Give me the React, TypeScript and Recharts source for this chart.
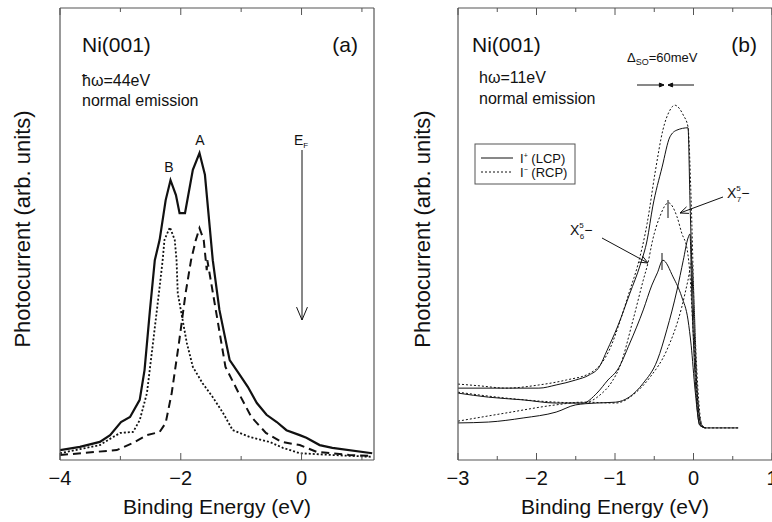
import { LineChart, Line, XAxis, YAxis } from 'recharts';

const FONT = '"Liberation Sans", Arial, Helvetica, sans-serif';
const INK = '#111';
const FRAME = '#555';

// panel (a): Ni(001), hw = 44 eV, normal emission  -> [binding energy (eV), photocurrent (arb.)]
const aSolid: [number, number][] = [
  [-4.0, 2.2], [-3.67, 2.9], [-3.34, 4.0], [-3.17, 5.5], [-2.99, 8.4], [-2.84, 9.5],
  [-2.68, 13.3], [-2.6, 19.9], [-2.51, 33.2], [-2.43, 44.2], [-2.35, 48.7], [-2.25, 57.5],
  [-2.17, 61.9], [-2.08, 58.6], [-2.02, 54.6], [-1.93, 54.6], [-1.8, 64.2], [-1.69, 67.9],
  [-1.6, 63.1], [-1.47, 44.2], [-1.36, 33.2], [-1.19, 22.1], [-1.02, 18.8], [-0.89, 16.2],
  [-0.74, 12.6], [-0.58, 10.0], [-0.41, 8.4], [-0.25, 6.6], [-0.03, 5.5], [0.08, 4.9],
  [0.3, 3.3], [0.51, 2.7], [1.17, 1.5],
];
const aDotted: [number, number][] = [
  [-4.0, 1.5], [-3.34, 3.3], [-3.12, 5.1], [-3.0, 6.0], [-2.79, 6.2], [-2.68, 8.8],
  [-2.56, 14.8], [-2.46, 25.9], [-2.35, 38.3], [-2.3, 44.2], [-2.27, 48.7], [-2.18, 51.5],
  [-2.1, 48.7], [-2.07, 44.2], [-2.05, 36.9], [-1.9, 25.9], [-1.8, 20.6], [-1.64, 17.0],
  [-1.47, 13.9], [-1.3, 10.4], [-1.14, 6.6], [-0.86, 5.1], [-0.53, 4.0], [-0.31, 2.7],
  [-0.03, 1.5], [0.51, 1.1], [1.17, 0.7],
];
const aDashed: [number, number][] = [
  [-4.0, 1.1], [-3.06, 2.2], [-2.79, 3.8], [-2.56, 5.5], [-2.35, 6.2], [-2.25, 8.2],
  [-2.15, 14.8], [-2.03, 25.9], [-1.92, 36.9], [-1.83, 44.2], [-1.75, 48.7], [-1.69, 51.3],
  [-1.62, 48.7], [-1.57, 42.0], [-1.56, 44.2], [-1.42, 33.2], [-1.26, 20.6], [-1.04, 14.8],
  [-0.83, 9.5], [-0.59, 6.0], [-0.33, 4.0], [-0.03, 3.3], [0.25, 1.8], [0.79, 1.1], [1.17, 0.9],
];

// panel (b): Ni(001), hw = 11 eV -> three pairs of I+ (LCP, solid) / I- (RCP, dotted)
const bPlus1: [number, number][] = [
  [-3.0, 15.9], [-2.39, 15.9], [-1.97, 15.9], [-1.75, 16.6], [-1.5, 17.7], [-1.33, 18.8],
  [-1.2, 20.6], [-1.1, 24.3], [-0.97, 29.4], [-0.81, 36.9], [-0.68, 43.1], [-0.59, 48.7],
  [-0.52, 56.0], [-0.4, 64.8], [-0.3, 71.5], [-0.21, 73.0], [-0.07, 73.5], [-0.045, 57.5],
  [-0.006, 35.4], [0.045, 15.5], [0.096, 7.7], [0.15, 7.1], [0.57, 7.1],
];
const bMinus1: [number, number][] = [
  [-3.0, 16.8], [-2.72, 16.4], [-2.39, 15.9], [-1.97, 16.6], [-1.62, 17.7], [-1.32, 19.2],
  [-1.19, 21.0], [-1.06, 24.8], [-0.94, 30.5], [-0.81, 37.6], [-0.71, 43.1], [-0.59, 52.4],
  [-0.49, 63.5], [-0.39, 73.0], [-0.3, 77.4], [-0.24, 78.5], [-0.13, 76.3], [-0.07, 73.7],
  [-0.03, 57.5], [0.006, 35.4], [0.057, 15.5], [0.108, 7.7], [0.16, 7.1], [0.57, 7.1],
];
const bPlus2: [number, number][] = [
  [-3.0, 14.8], [-2.61, 13.9], [-2.17, 13.3], [-1.75, 12.6], [-1.41, 12.6], [-1.23, 14.8],
  [-1.09, 17.7], [-0.97, 19.9], [-0.81, 25.9], [-0.64, 33.2], [-0.53, 38.7], [-0.46, 41.4],
  [-0.39, 44.2], [-0.26, 40.5], [-0.15, 36.1], [-0.07, 31.0], [-0.03, 25.4], [0.02, 15.5],
  [0.08, 7.7], [0.15, 7.1],
];
const bMinus2: [number, number][] = [
  [-3.0, 15.0], [-2.39, 13.7], [-1.75, 12.8], [-1.41, 12.6], [-1.19, 14.4], [-1.04, 17.3],
  [-0.94, 20.6], [-0.77, 31.0], [-0.64, 39.8], [-0.58, 43.6], [-0.52, 48.7], [-0.43, 53.8],
  [-0.32, 56.9], [-0.21, 53.8], [-0.15, 50.2], [-0.08, 46.5], [-0.045, 40.9], [-0.006, 28.8],
  [0.045, 14.4], [0.11, 7.7], [0.16, 7.1],
];
const bPlus3: [number, number][] = [
  [-3.0, 8.2], [-2.61, 8.4], [-2.17, 9.3], [-1.75, 10.6], [-1.5, 12.2], [-1.24, 12.6],
  [-0.99, 12.8], [-0.82, 13.9], [-0.64, 17.0], [-0.46, 22.1], [-0.34, 28.8], [-0.21, 37.6],
  [-0.13, 44.2], [-0.07, 49.1], [-0.045, 50.0], [-0.02, 35.4], [0.03, 15.5], [0.08, 7.7],
  [0.15, 7.1],
];
const bMinus3: [number, number][] = [
  [-3.0, 8.6], [-2.39, 10.4], [-1.75, 12.2], [-1.41, 12.8], [-0.99, 12.6], [-0.73, 15.0],
  [-0.55, 18.4], [-0.34, 24.3], [-0.15, 33.8], [-0.07, 39.8], [-0.02, 43.8], [0.006, 35.4],
  [0.045, 15.5], [0.096, 7.7], [0.16, 7.1],
];

const aTicks = [-4, -3, -2, -1, 0, 1];
const aTickLabels = [-4, -2, 0];
const bTicks = [-3, -2.5, -2, -1.5, -1, -0.5, 0, 0.5, 1];
const bTickLabels = [-3, -2, -1, 0, 1];

const toRows = (pts: [number, number][]) => pts.map(([x, y]) => ({ x, y }));
const fmt = (v: number) => (v < 0 ? `\u2212${Math.abs(v)}` : `${v}`);

function makeTick(labelled: number[], side: 'top' | 'bottom') {
  return (props: any) => {
    const { x, y, payload } = props;
    const v = payload.value;
    const major = labelled.includes(v);
    const len = major ? 7 : 4;
    const dir = side === 'bottom' ? -1 : 1;
    return (
      <g>
        <line x1={x} x2={x} y1={y} y2={y + dir * len} stroke={FRAME} strokeWidth={1} />
        {side === 'bottom' && major && (
          <text x={x} y={y + 25} textAnchor="middle" fontSize={20} fontFamily={FONT} fill={INK}>
            {fmt(v)}
          </text>
        )}
      </g>
    );
  };
}

type Series = { pts: [number, number][]; width: number; dash?: string; curve: 'linear' | 'monotone' };

// axes get 1px of size (a zero-sized axis is not drawn), so margins are 1px smaller
function Panel({ width, margin, domain, ticks, labelled, series }: {
  width: number;
  margin: { top: number; left: number; right: number; bottom: number };
  domain: [number, number];
  ticks: number[];
  labelled: number[];
  series: Series[];
}) {
  const axisLine = { stroke: FRAME, strokeWidth: 1.2 };
  return (
    <LineChart width={width} height={522} margin={margin}>
      <XAxis xAxisId="b" dataKey="x" type="number" domain={domain} allowDataOverflow ticks={ticks}
        interval={0} height={1} tickSize={0} tickMargin={0} tickLine={false} axisLine={axisLine}
        tick={makeTick(labelled, 'bottom')} />
      <XAxis xAxisId="t" orientation="top" dataKey="x" type="number" domain={domain} allowDataOverflow
        ticks={ticks} interval={0} height={1} tickSize={0} tickMargin={0} tickLine={false}
        axisLine={axisLine} tick={makeTick(labelled, 'top')} />
      <YAxis yAxisId="l" type="number" domain={[0, 100]} allowDataOverflow width={1} tick={false}
        tickLine={false} axisLine={axisLine} />
      <YAxis yAxisId="r" orientation="right" type="number" domain={[0, 100]} allowDataOverflow
        width={1} tick={false} tickLine={false} axisLine={axisLine} />
      {series.map((s, i) => (
        <Line key={i} xAxisId="b" yAxisId="l" data={toRows(s.pts)} dataKey="y" type={s.curve}
          stroke={INK} strokeWidth={s.width} strokeDasharray={s.dash} dot={false}
          activeDot={false} isAnimationActive={false} />
      ))}
    </LineChart>
  );
}

function Arrow({ x1, y1, x2, y2, size = 8, filled = false }: {
  x1: number; y1: number; x2: number; y2: number; size?: number; filled?: boolean;
}) {
  const a = Math.atan2(y2 - y1, x2 - x1);
  const w = 0.4;
  const p1 = [x2 - size * Math.cos(a - w), y2 - size * Math.sin(a - w)];
  const p2 = [x2 - size * Math.cos(a + w), y2 - size * Math.sin(a + w)];
  return (
    <g stroke={INK} strokeWidth={1}>
      <line x1={x1} y1={y1} x2={x2} y2={y2} />
      {filled ? (
        <polygon points={`${p1[0]},${p1[1]} ${x2},${y2} ${p2[0]},${p2[1]}`} fill={INK} />
      ) : (
        <polyline points={`${p1[0]},${p1[1]} ${x2},${y2} ${p2[0]},${p2[1]}`} fill="none" />
      )}
    </g>
  );
}

export default function App() {
  const seriesA: Series[] = [
    { pts: aSolid, width: 2.2, curve: 'linear' },
    { pts: aDashed, width: 2, dash: '8 5', curve: 'linear' },
    { pts: aDotted, width: 1.8, dash: '2 2', curve: 'linear' },
  ];
  const seriesB: Series[] = [
    { pts: bPlus1, width: 1, curve: 'monotone' },
    { pts: bMinus1, width: 1, dash: '2 2', curve: 'monotone' },
    { pts: bPlus2, width: 1, curve: 'monotone' },
    { pts: bMinus2, width: 1, dash: '2 2', curve: 'monotone' },
    { pts: bPlus3, width: 1, curve: 'monotone' },
    { pts: bMinus3, width: 1, dash: '2 2', curve: 'monotone' },
  ];

  return (
    <div style={{ position: 'absolute', left: 0, top: 0, width: 772, height: 522, background: '#fff', overflow: 'hidden' }}>
      <div style={{ position: 'absolute', left: 0, top: 0 }}>
        <Panel width={390} margin={{ top: 7, left: 59, right: 15, bottom: 61 }} domain={[-4, 1.2]}
          ticks={aTicks} labelled={aTickLabels} series={seriesA} />
      </div>
      <div style={{ position: 'absolute', left: 390, top: 0 }}>
        <Panel width={383} margin={{ top: 7, left: 67, right: 0, bottom: 61 }} domain={[-3, 1]}
          ticks={bTicks} labelled={bTickLabels} series={seriesB} />
      </div>
      <svg width={772} height={522} style={{ position: 'absolute', left: 0, top: 0, pointerEvents: 'none' }}
        fontFamily={FONT} fill={INK}>
        {/* panel (a) */}
        <text x={22} y={229} fontSize={22} textAnchor="middle" dominantBaseline="central"
          transform="rotate(-90 22 229)">Photocurrent (arb. units)</text>
        <text x={217} y={514} fontSize={21} textAnchor="middle">Binding Energy (eV)</text>
        <text x={82} y={52} fontSize={21}>Ni(001)</text>
        <text x={358} y={52} fontSize={21} textAnchor="end">(a)</text>
        <text x={82} y={86} fontSize={16}>{'\u0127\u03c9=44eV'}</text>
        <text x={82} y={106} fontSize={16}>normal emission</text>
        <text x={200} y={145} fontSize={14} textAnchor="middle">A</text>
        <text x={169} y={172} fontSize={14} textAnchor="middle">B</text>
        <text x={294} y={145} fontSize={14}>E<tspan fontSize={8} dy={3}>F</tspan></text>
        <Arrow x1={302} y1={150} x2={302} y2={320} size={14} />

        {/* panel (b) */}
        <text x={422} y={229} fontSize={22} textAnchor="middle" dominantBaseline="central"
          transform="rotate(-90 422 229)">Photocurrent (arb. units)</text>
        <text x={615} y={514} fontSize={21} textAnchor="middle">Binding Energy (eV)</text>
        <text x={472} y={52} fontSize={21}>Ni(001)</text>
        <text x={757} y={52} fontSize={21} textAnchor="end">(b)</text>
        <text x={479} y={83} fontSize={16}>{'h\u03c9=11eV'}</text>
        <text x={479} y={104} fontSize={16}>normal emission</text>
        <text x={627} y={62} fontSize={13}>{'\u0394'}<tspan fontSize={9} dy={3}>SO</tspan><tspan dy={-3}>=60meV</tspan></text>
        <Arrow x1={637} y1={85} x2={664} y2={85} size={5} filled />
        <Arrow x1={694} y1={85} x2={668} y2={85} size={5} filled />

        <rect x={475} y={144} width={100} height={40} fill="#fff" stroke={FRAME} strokeWidth={1} />
        <line x1={481} y1={158} x2={513} y2={158} stroke={INK} strokeWidth={1} />
        <line x1={481} y1={172} x2={513} y2={172} stroke={INK} strokeWidth={1} strokeDasharray="2 2" />
        <text x={520} y={163} fontSize={13}>I<tspan fontSize={7} dy={-5}>+</tspan><tspan dy={5}> (LCP)</tspan></text>
        <text x={520} y={177} fontSize={13}>I<tspan fontSize={7} dy={-5}>{'\u2212'}</tspan><tspan dy={5}> (RCP)</tspan></text>

        <text x={570} y={235} fontSize={14}>X<tspan fontSize={8} dy={-7}>5</tspan><tspan fontSize={8} dx={-4} dy={11}>6</tspan><tspan dy={-4}>{'\u2212'}</tspan></text>
        <Arrow x1={602} y1={238} x2={648} y2={263} size={9} />
        <line x1={662} y1={253} x2={662} y2={270} stroke={INK} strokeWidth={1} />

        <text x={727} y={198} fontSize={14}>X<tspan fontSize={8} dy={-7}>5</tspan><tspan fontSize={8} dx={-4} dy={11}>7</tspan><tspan dy={-4}>{'\u2212'}</tspan></text>
        <Arrow x1={723} y1={197} x2={680} y2={213} size={9} />
        <line x1={668} y1={200} x2={668} y2={218} stroke={INK} strokeWidth={1} />
      </svg>
    </div>
  );
}
